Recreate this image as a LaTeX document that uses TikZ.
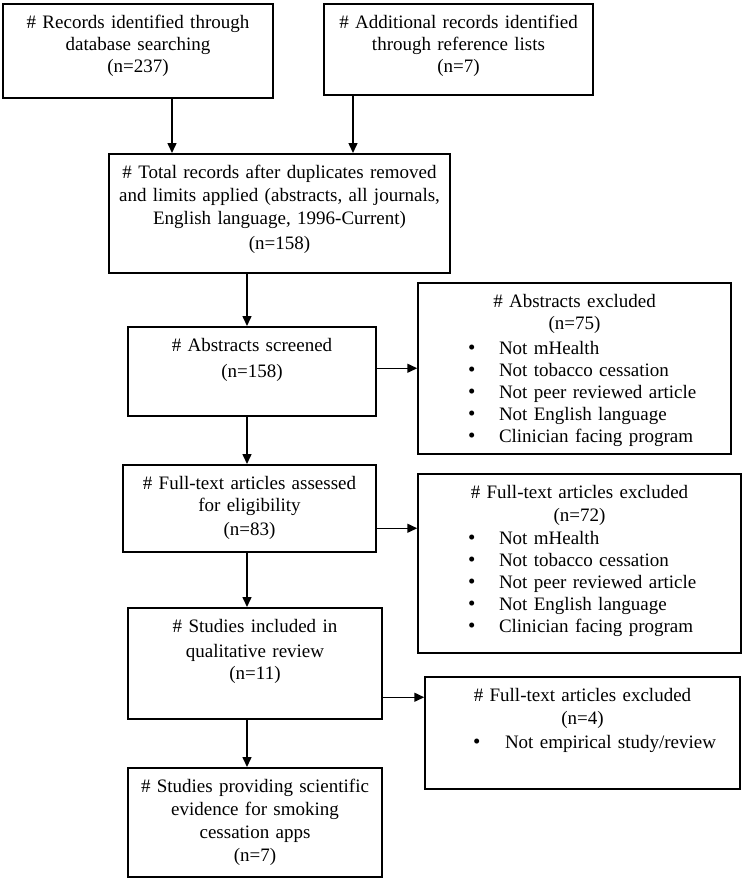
\documentclass[tikz,border=0pt]{standalone}
\usepackage{fontspec}
\setmainfont{Liberation Serif}
\usetikzlibrary{positioning, arrows.meta}

% voce di elenco: larghezza riga, rientro testo, testo
\newcommand{\itm}[3]{\makebox[#1][l]{\makebox[#2][l]{{\fontsize{21}{22}\selectfont\textbullet}}#3}}

\begin{document}
\begin{tikzpicture}[x=1pt, y=-1pt,
  stage/.style={draw, line width=1.5pt, inner sep=0pt, anchor=north, align=center, text height=25pt, font=\fontsize{19}{22}\selectfont},
  arr/.style={-{Triangle[length=10pt,width=9pt]}, line width=1.5pt}]
				\useasboundingbox (0,0) rectangle (742,879);
				
				% Identificazione
				\node[stage, text width=270pt, text depth=69pt] (records) at (138,3) {\# Records identified through\\database searching\\(n=237)};
				\node[stage, text width=269pt, text depth=66pt] (additional) at (458.5,3) {\# Additional records identified\\through reference lists\\(n=7)};
				\node[stage, text width=341pt, text depth=94pt] (total) at (279.5,153) {\# Total records after duplicates removed\\[1pt]and limits applied (abstracts, all journals,\\[1pt]English language, 1996-Current)\\[3pt](n=158)};
				
				% Screening
				\node[stage, text width=248pt, text depth=64pt] (screened) at (252,326) {\# Abstracts screened\\[4pt](n=158)};
				\node[stage, text width=313pt, text depth=146pt] (absexcl) at (574.5,282) {\# Abstracts excluded\\(n=75)\\[3pt]\itm{213pt}{31pt}{Not mHealth}\\\itm{213pt}{31pt}{Not tobacco cessation}\\\itm{213pt}{31pt}{Not peer reviewed article}\\\itm{213pt}{31pt}{Not English language}\\\itm{213pt}{31pt}{Clinician facing program}};
				
				% Eleggibilità
				\node[stage, text width=253pt, text depth=62pt] (fulltext) at (249.5,464) {\# Full-text articles assessed\\for eligibility\\[2pt](n=83)};
				\node[stage, text width=323pt, text depth=154pt] (ftexcl) at (579.5,473) {\# Full-text articles excluded\\[1pt](n=72)\\[1pt]\itm{223pt}{31pt}{Not mHealth}\\\itm{223pt}{31pt}{Not tobacco cessation}\\\itm{223pt}{31pt}{Not peer reviewed article}\\\itm{223pt}{31pt}{Not English language}\\\itm{223pt}{31pt}{Clinician facing program}};
				
				% Inclusione
				\node[stage, text width=254pt, text depth=86pt] (included) at (255,607) {\# Studies included in\\[3pt]qualitative review\\(n=11)};
				\node[stage, text width=315pt, text depth=87pt] (empexcl) at (582.5,676) {\# Full-text articles excluded\\[1pt](n=4)\\[2pt]\itm{219pt}{32pt}{Not empirical study/review}};
				\node[stage, text width=254pt, text depth=84pt] (providing) at (255,767) {\# Studies providing scientific\\[1pt]evidence for smoking\\[1pt]cessation apps\\[1pt](n=7)};
				
				% Frecce
				\coordinate (spine) at (247,0);
				\draw[arr] ([xshift=34pt]records.south) -- ([xshift=34pt]records.south |- total.north);
				\draw[arr] ([xshift=-105.5pt]additional.south) -- ([xshift=-105.5pt]additional.south |- total.north);
				\draw[arr] (total.south -| spine) -- (screened.north -| spine);
				\draw[arr] ([yshift=3pt]screened.east) -- ([yshift=3pt]screened.east -| absexcl.west);
				\draw[arr] (screened.south -| spine) -- (fulltext.north -| spine);
				\draw[arr] ([yshift=-20pt]fulltext.east) -- ([yshift=-20pt]fulltext.east -| ftexcl.west);
				\draw[arr] (fulltext.south -| spine) -- (included.north -| spine);
				\draw[arr] ([yshift=-34pt]included.east) -- ([yshift=-34pt]included.east -| empexcl.west);
				\draw[arr] (included.south -| spine) -- (providing.north -| spine);
			\end{tikzpicture}
\end{document}
